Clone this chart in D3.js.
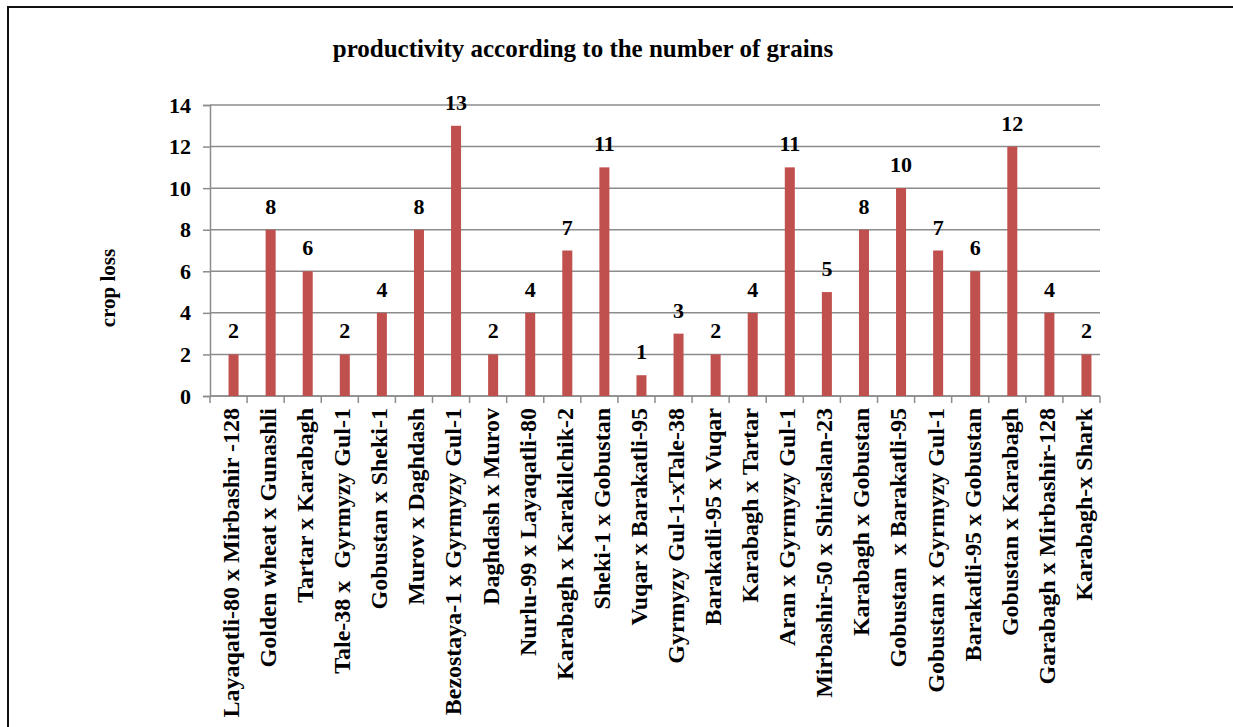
<!DOCTYPE html>
<html>
<head>
<meta charset="utf-8">
<script src="https://cdn.jsdelivr.net/npm/d3@7"></script>
<style>
  html, body { margin: 0; padding: 0; background: #fff; }
  svg { display: block; }
  text { font-family: "Liberation Serif", "Times New Roman", serif; font-weight: bold; fill: #000; }
</style>
</head>
<body>
<svg id="chart" width="1233" height="727"></svg>
<script>
const categories = [
  "Layaqatli-80 x Mirbashir -128",
  "Golden wheat x Gunashli",
  "Tartar x Karabagh",
  "Tale-38 x  Gyrmyzy Gul-1",
  "Gobustan x Sheki-1",
  "Murov x Daghdash",
  "Bezostaya-1 x Gyrmyzy Gul-1",
  "Daghdash x Murov",
  "Nurlu-99 x Layaqatli-80",
  "Karabagh x Karakilchik-2",
  "Sheki-1 x Gobustan",
  "Vuqar x Barakatli-95",
  "Gyrmyzy Gul-1-xTale-38",
  "Barakatli-95 x Vuqar",
  "Karabagh x Tartar",
  "Aran x Gyrmyzy Gul-1",
  "Mirbashir-50 x Shiraslan-23",
  "Karabagh x Gobustan",
  "Gobustan  x Barakatli-95",
  "Gobustan x Gyrmyzy Gul-1",
  "Barakatli-95 x Gobustan",
  "Gobustan x Karabagh",
  "Garabagh x Mirbashir-128",
  "Karabagh-x Shark"
];
const values = [2, 8, 6, 2, 4, 8, 13, 2, 4, 7, 11, 1, 3, 2, 4, 11, 5, 8, 10, 7, 6, 12, 4, 2];
const yTicks = [0, 2, 4, 6, 8, 10, 12, 14];
const titleText = "productivity according to the number of grains";
const yAxisTitle = "crop loss";

const svg = d3.select("#chart");
const W = 1233, H = 727;
const plot = { left: 210, right: 1100, top: 105, bottom: 396 };

// outer frame (right & bottom edges fall outside the picture)
svg.append("rect")
  .attr("x", 8).attr("y", 7)
  .attr("width", 1400).attr("height", 900)
  .attr("fill", "none").attr("stroke", "#111").attr("stroke-width", 2);

const x = d3.scaleBand().domain(categories).range([plot.left, plot.right]).paddingInner(0).paddingOuter(0);
const y = d3.scaleLinear().domain([0, 14]).range([plot.bottom, plot.top]);
const bw = x.bandwidth();
const gridColor = "#8c8c8c";

// gridlines
svg.append("g").selectAll("line").data(yTicks).join("line")
  .attr("x1", plot.left).attr("x2", plot.right)
  .attr("y1", d => y(d)).attr("y2", d => y(d))
  .attr("stroke", gridColor).attr("stroke-width", 1.5);

// y axis
const yAxis = d3.axisLeft(y).tickValues(yTicks).tickSize(7).tickPadding(12).tickFormat(d3.format("d"));
const gy = svg.append("g").attr("transform", `translate(${plot.left},0)`).call(yAxis);
gy.select(".domain").attr("stroke", gridColor).attr("stroke-width", 1.5);
gy.selectAll(".tick line").attr("stroke", gridColor).attr("stroke-width", 1.5);
gy.selectAll(".tick text")
  .style("font-family", '"Liberation Serif", "Times New Roman", serif')
  .style("font-weight", "bold").style("font-size", "22px").attr("fill", "#000");

// x axis line and ticks at band boundaries
svg.append("line")
  .attr("x1", plot.left).attr("x2", plot.right)
  .attr("y1", plot.bottom).attr("y2", plot.bottom)
  .attr("stroke", gridColor).attr("stroke-width", 1.5);
const boundaries = categories.map(c => x(c)).concat([plot.right]);
svg.append("g").selectAll("line").data(boundaries).join("line")
  .attr("x1", d => d).attr("x2", d => d)
  .attr("y1", plot.bottom).attr("y2", plot.bottom + 7)
  .attr("stroke", gridColor).attr("stroke-width", 1.5);

// bars (second slot of a two-slot cluster)
const barW = bw * 0.27;
svg.append("g").selectAll("rect").data(values).join("rect")
  .attr("x", (d, i) => x(categories[i]) + bw / 2)
  .attr("y", d => y(d))
  .attr("width", barW)
  .attr("height", d => y(0) - y(d))
  .attr("fill", "#C0504D");

// value labels
svg.append("g").selectAll("text").data(values).join("text")
  .attr("x", (d, i) => x(categories[i]) + bw / 2 + barW / 2)
  .attr("y", d => y(d) - 16)
  .attr("text-anchor", "middle")
  .style("font-size", "22px")
  .text(d => d);

// category labels
svg.append("g").selectAll("text").data(categories).join("text")
  .attr("transform", d => `translate(${x(d) + bw / 2 + 2},${plot.bottom + 12}) rotate(-90)`)
  .attr("text-anchor", "end")
  .attr("dy", "0.35em")
  .style("font-size", "24px")
  .style("white-space", "pre")
  .text(d => d);

// title
svg.append("text")
  .attr("x", 583).attr("y", 57)
  .attr("text-anchor", "middle")
  .style("font-size", "25px")
  .text(titleText);

// y axis title
svg.append("text")
  .attr("transform", `translate(115,288) rotate(-90)`)
  .attr("text-anchor", "middle")
  .style("font-size", "21px")
  .text(yAxisTitle);
</script>
</body>
</html>
